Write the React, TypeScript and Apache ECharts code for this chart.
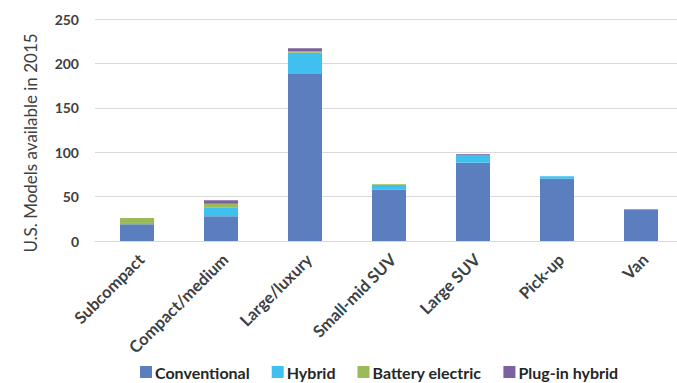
import React, { useEffect, useRef } from "react";
import * as echarts from "echarts";

const categories = ["Subcompact", "Compact/medium", "Large/luxury", "Small-mid SUV", "Large SUV", "Pick-up", "Van"];
const conventional = [19, 28, 188, 58, 88, 70, 35];
const hybrid = [0, 10, 24, 5, 9, 3, 0];
const batteryElectric = [7, 4, 2, 1, 0, 0, 1];
const pluginHybrid = [0, 4, 3, 0, 1, 0, 0];
const yTicks = [0, 50, 100, 150, 200, 250];

const FONT = "Lato, 'Open Sans', sans-serif";

export default function App() {
  const ref = useRef<HTMLDivElement>(null);
  useEffect(() => {
    if (!ref.current) return;
    const chart = echarts.init(ref.current, undefined, { renderer: "svg" });
    const mk = (name: string, data: number[], color: string) => ({
      name,
      type: "bar",
      stack: "total",
      data,
      barWidth: 34,
      itemStyle: { color },
    });
    chart.setOption({
      animation: false,
      textStyle: { fontFamily: FONT },
      grid: { left: 95, top: 19, width: 588, height: 222, containLabel: false },
      xAxis: {
        type: "category",
        data: categories,
        axisLine: { show: true, lineStyle: { color: "#d9d9d9" } },
        axisTick: { show: false },
        axisLabel: {
          rotate: 45,
          interval: 0,
          margin: 20,
          padding: [0, -6, 0, 0],
          color: "#404040",
          fontWeight: "bold",
          fontSize: 16.5,
          fontFamily: FONT,
        },
      },
      yAxis: {
        type: "value",
        min: yTicks[0],
        max: yTicks[yTicks.length - 1],
        interval: 50,
        axisLine: { show: false },
        axisTick: { show: false },
        splitLine: { lineStyle: { color: "#d9d9d9" } },
        axisLabel: { color: "#404040", fontWeight: "bold", fontSize: 14, margin: 16, fontFamily: FONT },
      },
      legend: {
        left: 135,
        top: 359,
        itemWidth: 12,
        itemHeight: 12,
        itemGap: 22,
        icon: "rect",
        textStyle: { color: "#262626", fontSize: 16, fontWeight: "bold", fontFamily: FONT, padding: [0, 0, 0, -2] },
      },
      graphic: [
        {
          type: "text",
          x: 30,
          y: 143,
          rotation: Math.PI / 2,
          style: {
            text: "U.S. Models available in 2015",
            fill: "#404040",
            fontSize: 17,
            fontFamily: FONT,
            align: "center",
            verticalAlign: "middle",
          },
        },
      ],
      series: [
        mk("Conventional", conventional, "#5b7fbe"),
        mk("Hybrid", hybrid, "#3fc0ee"),
        mk("Battery electric", batteryElectric, "#9bbb59"),
        mk("Plug-in hybrid", pluginHybrid, "#7d60a0"),
      ],
    });
    return () => chart.dispose();
  }, []);
  return (
    <div style={{ position: "fixed", left: 0, top: 0, width: 677, height: 383, overflow: "hidden", background: "#fff" }}>
      <div ref={ref} style={{ width: 700, height: 383 }} />
    </div>
  );
}
